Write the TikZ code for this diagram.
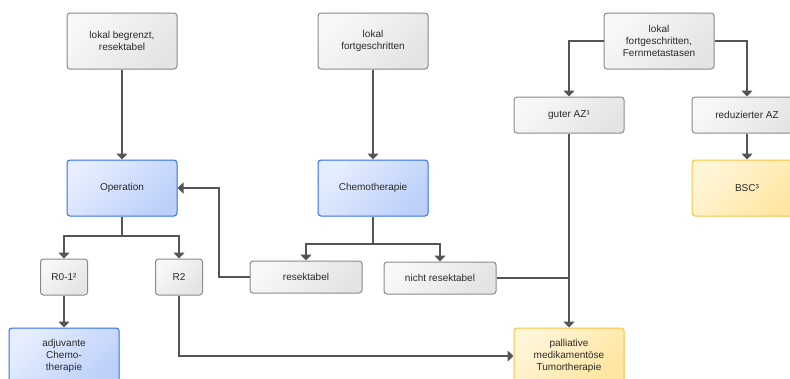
\documentclass[tikz,border=0pt]{standalone}
\usepackage{fontspec}
\setmainfont{Liberation Sans}
\usepackage{tikz}
\usetikzlibrary{arrows.meta,positioning,calc}

\definecolor{linegrey}{HTML}{555555}
\definecolor{greyborder}{HTML}{8A8A8A}
\definecolor{greytop}{HTML}{F8F8F8}
\definecolor{greybottom}{HTML}{E4E4E4}
\definecolor{blueborder}{HTML}{2F6EF2}
\definecolor{bluetop}{HTML}{E6EEFE}
\definecolor{bluebottom}{HTML}{BCD0FA}
\definecolor{yellowborder}{HTML}{F5C444}
\definecolor{yellowtop}{HTML}{FFF6D8}
\definecolor{yellowbottom}{HTML}{FFE5A0}
\definecolor{textgrey}{HTML}{2A2A2A}

\begin{document}
\begin{tikzpicture}[
      x=1pt,y=-1pt,
      every node/.style={font=\fontsize{10}{12}\selectfont,text=textgrey},
      box/.style={rounded corners=3pt,draw,line width=1pt,align=center,
        minimum width=110pt,minimum height=56pt,inner sep=2pt},
      greybox/.style={box,draw=greyborder,top color=greytop,bottom color=greybottom,shading angle=45},
      bluebox/.style={box,draw=blueborder,top color=bluetop,bottom color=bluebottom,shading angle=45},
      yellowbox/.style={box,draw=yellowborder,top color=yellowtop,bottom color=yellowbottom,shading angle=45},
      small/.style={minimum height=36pt},
      tiny/.style={minimum width=47pt,minimum height=36pt},
      flat/.style={minimum width=112pt,minimum height=32pt},
      link/.style={draw=linegrey,line width=1.7pt},
      arr/.style={link,-{Triangle[width=11pt,length=6pt]}}]
      \useasboundingbox (0,0) rectangle (790,378);
      \clip (0,0) rectangle (790,378);
      \node[greybox] (begrenzt) at (122,41) {lokal begrenzt,\\resektabel};
      \node[greybox] (fortgeschr) at (373,41) {lokal\\fortgeschritten};
      \node[greybox] (fernmeta) at (659,41) {lokal\\fortgeschritten,\\Fernmetastasen};
      \node[greybox,small] (guterAZ) at (569,115) {guter AZ¹};
      \node[greybox,small] (reduzAZ) at (747,115) {reduzierter AZ};
      \node[bluebox] (operation) at (122,188) {Operation};
      \node[bluebox] (chemo) at (373,188) {Chemotherapie};
      \node[yellowbox] (bsc) at (747,188) {BSC³};
      \node[greybox,tiny] (rnull) at (64,277) {R0-1²};
      \node[greybox,tiny] (rzwei) at (179,277) {R2};
      \node[greybox,flat] (resekt) at (306,277) {resektabel};
      \node[greybox,flat] (nichtres) at (440,278) {nicht resektabel};
      \node[bluebox] (adjuvant) at (64,356) {adjuvante\\Chemo-\\therapie};
      \node[yellowbox] (palliativ) at (569,356) {palliative\\medikamentöse\\Tumortherapie};
      \coordinate (opsplit) at (122,236);
      \coordinate (chsplit) at (373,244);
      \coordinate (resbend) at (219,277);
      \draw[arr] (begrenzt) -- (operation);
      \draw[arr] (fortgeschr) -- (chemo);
      \draw[arr] (fernmeta.west) -| (guterAZ);
      \draw[arr] (fernmeta.east) -| (reduzAZ);
      \draw[arr] (reduzAZ) -- (bsc);
      \draw[link] (operation.south) -- (opsplit);
      \draw[arr] (opsplit) -| (rnull);
      \draw[arr] (opsplit) -| (rzwei);
      \draw[link] (chemo.south) -- (chsplit);
      \draw[arr] (chsplit) -| (resekt);
      \draw[arr] (chsplit) -| (nichtres);
      \draw[arr] (resekt.west) -- (resbend) |- (operation.east);
      \draw[arr] (rnull) -- (adjuvant);
      \draw[arr] (rzwei.south) |- (palliativ.west);
      \draw[link] (nichtres.east) -- (nichtres.east -| guterAZ);
      \draw[arr] (guterAZ) -- (palliativ);
    \end{tikzpicture}
\end{document}
